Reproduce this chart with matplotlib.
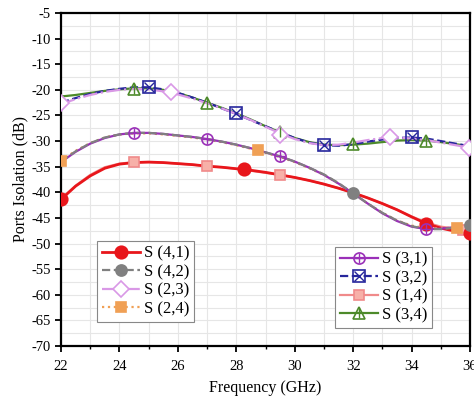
import numpy as np
import matplotlib
matplotlib.use("Agg")
import matplotlib.pyplot as plt
from matplotlib.ticker import MultipleLocator

plt.rcParams["font.family"] = ["Liberation Serif", "DejaVu Serif"]
plt.rcParams["axes.unicode_minus"] = False

# frequency grid of the curves (GHz)
freq = [22.0, 22.5, 23.0, 23.5, 24.0, 24.5, 25.0, 25.5, 26.0, 26.5, 27.0, 27.5, 28.0, 28.5,
        29.0, 29.5, 30.0, 30.5, 31.0, 31.5, 32.0, 32.5, 33.0, 33.5, 34.0, 34.5, 35.0, 35.5, 36.0]

# curves (dB)
s41 = [-41.4, -38.8, -36.8, -35.3, -34.5, -34.2, -34.1, -34.2, -34.4, -34.6, -34.9, -35.1, -35.4, -35.7,
       -36.1, -36.6, -37.1, -37.7, -38.4, -39.2, -40.1, -41.1, -42.2, -43.4, -44.8, -46.1, -47.0, -47.6, -48.1]
s14 = [-41.3, -38.7, -36.6, -35.1, -34.4, -34.1, -34.1, -34.2, -34.4, -34.6, -34.9, -35.1, -35.4, -35.8,
       -36.2, -36.6, -37.1, -37.7, -38.4, -39.2, -40.1, -41.1, -42.2, -43.4, -44.7, -45.9, -46.7, -47.1, -47.4]
s42 = [-34.0, -32.0, -30.4, -29.3, -28.7, -28.4, -28.4, -28.6, -28.9, -29.2, -29.6, -30.1, -30.7, -31.4,
       -32.2, -33.0, -34.0, -35.2, -36.5, -38.2, -40.2, -42.2, -44.0, -45.5, -46.6, -47.2, -47.2, -46.9, -46.5]
s31 = [-34.1, -32.1, -30.5, -29.4, -28.7, -28.4, -28.4, -28.6, -28.9, -29.2, -29.6, -30.1, -30.7, -31.4,
       -32.2, -33.0, -34.0, -35.2, -36.6, -38.3, -40.2, -42.2, -44.1, -45.6, -46.7, -47.2, -47.1, -46.8, -46.4]
s24 = [-33.8, -31.9, -30.4, -29.3, -28.7, -28.5, -28.5, -28.7, -29.0, -29.3, -29.7, -30.2, -30.8, -31.5,
       -32.3, -33.1, -34.1, -35.3, -36.6, -38.3, -40.2, -42.2, -44.0, -45.5, -46.5, -47.0, -47.0, -46.9, -46.6]
s34 = [-21.3, -21.0, -20.6, -20.2, -19.9, -19.7, -19.7, -20.0, -20.6, -21.5, -22.5, -23.5, -24.6, -25.8,
       -27.1, -28.3, -29.4, -30.2, -30.7, -30.8, -30.7, -30.5, -30.2, -29.9, -29.8, -29.9, -30.2, -30.6, -31.0]
s32 = [-22.5, -21.6, -20.8, -20.2, -19.8, -19.5, -19.5, -19.9, -20.6, -21.5, -22.5, -23.6, -24.7, -25.9,
       -27.1, -28.3, -29.4, -30.3, -30.8, -30.9, -30.6, -30.1, -29.7, -29.4, -29.3, -29.5, -30.0, -30.5, -31.0]
s23 = [-22.8, -21.8, -21.0, -20.4, -20.0, -19.8, -19.9, -20.3, -20.9, -21.7, -22.6, -23.6, -24.7, -25.9,
       -27.2, -28.5, -29.6, -30.4, -30.8, -30.7, -30.3, -29.8, -29.4, -29.3, -29.5, -29.8, -30.3, -30.8, -31.3]

# marker positions
mk41_f, mk41_v = [22.0, 28.25, 34.5, 36.0], [-41.4, -35.45, -46.1, -48.0]
mk14_f, mk14_v = [24.5, 27.0, 29.5, 35.75], [-34.15, -34.9, -36.6, -47.3]
mk42_f, mk42_v = [32.0, 36.0], [-40.2, -46.4]
mk31_f, mk31_v = [24.5, 27.0, 29.5, 34.5], [-28.4, -29.6, -33.0, -47.2]
mk24_f, mk24_v = [22.0, 28.75, 35.55], [-33.8, -31.75, -46.9]
mk34_f, mk34_v = [24.5, 27.0, 29.5, 32.0, 34.5], [-19.8, -22.6, -28.3, -30.6, -30.0]
mk32_f, mk32_v = [25.0, 28.0, 31.0, 34.0], [-19.4, -24.6, -30.8, -29.3]
mk23_f, mk23_v = [22.0, 25.75, 29.5, 33.25, 35.95], [-22.5, -20.5, -28.8, -29.3, -31.3]

RED, GRAY, PINK, ORANGE = "#e8161b", "#808080", "#d998e6", "#f0a055"
PURPLE, BLUE, SALMON, GREEN = "#9a30b8", "#26269c", "#f08a8a", "#4d8a2a"

fig = plt.figure(figsize=(4.74, 3.98), dpi=100)
ax = fig.add_axes([0.1287, 0.1307, 0.8629, 0.8366])


def series(x, y, mx, my, color, ls, marker, ms, mfc, extra=None, lw=1.6):
    ax.plot(x, y, color=color, ls=ls, lw=lw, zorder=2)
    ax.plot(mx, my, ls="none", marker=marker, ms=ms, mfc=mfc, mec=color, mew=1.2, zorder=3)
    line, = ax.plot([], [], color=color, ls=ls, lw=lw)
    handles = [line, ax.plot([], [], ls="none", marker=marker, ms=ms, mfc=mfc, mec=color, mew=1.2)[0]]
    if extra:
        ax.plot(mx, my, ls="none", marker=extra, ms=ms * 0.9, mec=color, mew=1.0, zorder=4)
        handles.append(ax.plot([], [], ls="none", marker=extra, ms=ms * 0.9, mec=color, mew=1.0)[0])
    return tuple(handles)


h14 = series(freq, s14, mk14_f, mk14_v, SALMON, "-", "s", 7, "#f7b0a8")
h41 = series(freq, s41, mk41_f, mk41_v, RED, "-", "o", 9, RED, lw=2.0)
h24 = series(freq, s24, mk24_f, mk24_v, ORANGE, ":", "s", 7, ORANGE)
h31 = series(freq, s31, mk31_f, mk31_v, PURPLE, "-", "o", 8, "none", extra="+")
h42 = series(freq, s42, mk42_f, mk42_v, GRAY, "--", "o", 8, GRAY)
h34 = series(freq, s34, mk34_f, mk34_v, GREEN, "-", "^", 8, "none", extra="|")
h32 = series(freq, s32, mk32_f, mk32_v, BLUE, "--", "s", 8, "none", extra="x")
h23 = series(freq, s23, mk23_f, mk23_v, PINK, "-.", "D", 8, "white")

ax.set_xlim(22, 36)
ax.set_ylim(-70, -5)
ax.xaxis.set_major_locator(MultipleLocator(2))
ax.xaxis.set_minor_locator(MultipleLocator(1))
ax.yaxis.set_major_locator(MultipleLocator(5))
ax.yaxis.set_minor_locator(MultipleLocator(2.5))
ax.grid(True, which="both", color="#e6e6e6", lw=0.8, zorder=0)
ax.set_axisbelow(True)
ax.tick_params(which="major", direction="out", length=4, width=1.3, labelsize=10.5)
ax.tick_params(axis="x", which="major", pad=6)
ax.tick_params(which="minor", direction="out", length=2.5, width=1.0)
ax.tick_params(axis="y", which="minor", length=0)
for sp in ax.spines.values():
    sp.set_linewidth(1.6)

ax.set_xlabel("Frequency (GHz)", fontsize=11.5, labelpad=5)
ax.set_ylabel("Ports Isolation (dB)", fontsize=11.5, labelpad=2)

leg_kw = dict(fontsize=12, frameon=True, fancybox=False, edgecolor="#888888", framealpha=1,
              handlelength=2.3, handletextpad=0.2, labelspacing=0.15, borderpad=0.3, borderaxespad=0)
leg1 = ax.legend([h41, h42, h23, h24], ["S (4,1)", "S (4,2)", "S (2,3)", "S (2,4)"],
                 loc="lower left", bbox_to_anchor=(0.088, 0.072), **leg_kw)
leg1.get_frame().set_linewidth(0.8)
ax.add_artist(leg1)
leg2 = ax.legend([h31, h32, h14, h34], ["S (3,1)", "S (3,2)", "S (1,4)", "S (3,4)"],
                 loc="lower left", bbox_to_anchor=(0.67, 0.054), **leg_kw)
leg2.get_frame().set_linewidth(0.8)

fig.savefig("out.png", dpi=100)
